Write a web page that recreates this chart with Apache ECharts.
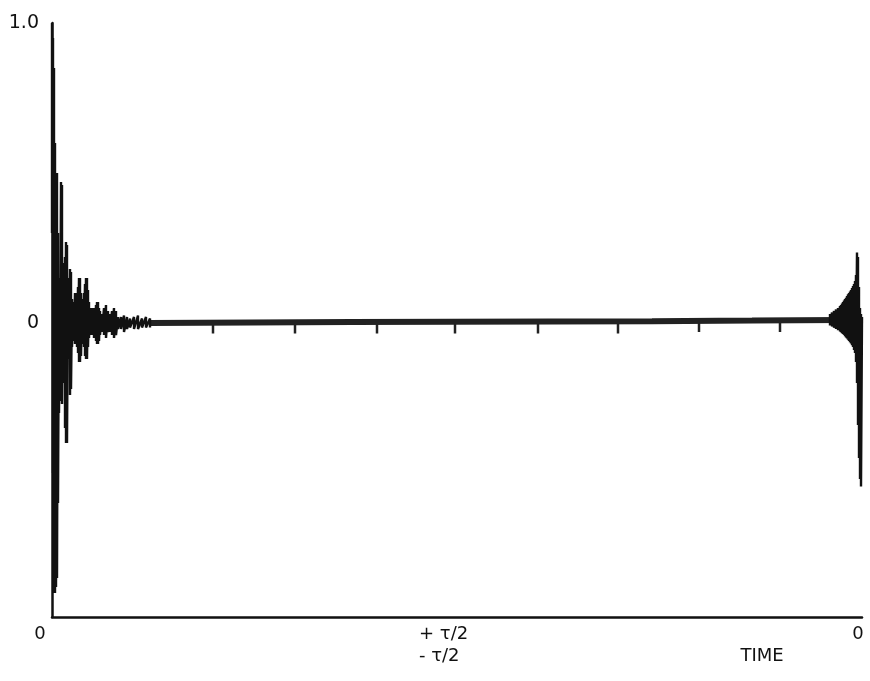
<!DOCTYPE html>
<html>
<head>
<meta charset="utf-8">
<script src="https://cdn.jsdelivr.net/npm/echarts@6/dist/echarts.min.js"></script>
<style>
  html, body { margin: 0; padding: 0; background: #fff; }
  #chart { width: 870px; height: 681px; }
</style>
</head>
<body>
<div id="chart"></div>
<script>
// time positions along the sweep, envelope of the ringing
const leftT = [0,1,2,3,4,5,6,7,8,9,10,11,12,13,14,15,16,17,18,19,20,21,22,23,24,25,26,27,28,29,30,31,32,33,34,35,36,37,38,39,40,41,42,43,44,45,46,47,48,
  50,52,54,56,58,60,62,64,66, 69,72,75,78,82,86,90,94,98]
const leftHi = [1.0,0.95,0.85,0.6,0.5,0.5,0.3,0.15,0.1,0.47,0.46,0.2,0.15,0.22,0.27,0.26,0.15,0.12,0.18,0.17,0.08,0.06,0.07,0.1,0.1,0.07,0.12,0.15,0.15,0.1,0.07,0.08,0.1,0.13,0.15,0.15,0.11,0.07,0.05,0.04,0.05,0.05,0.04,0.05,0.06,0.07,0.07,0.05,0.04,
  0.03,0.05,0.06,0.04,0.03,0.04,0.05,0.04,0.02, 0.02,0.025,0.02,0.015,0.02,0.025,0.015,0.02,0.015]
const leftLo = [0.3,-0.5,-0.9,-0.9,-0.88,-0.85,-0.6,-0.3,-0.2,-0.26,-0.27,-0.15,-0.2,-0.35,-0.4,-0.4,-0.12,-0.1,-0.24,-0.22,-0.08,-0.06,-0.05,-0.07,-0.07,-0.08,-0.1,-0.13,-0.13,-0.11,-0.07,-0.06,-0.08,-0.11,-0.12,-0.12,-0.08,-0.05,-0.04,-0.04,-0.04,-0.04,-0.05,-0.05,-0.06,-0.07,-0.07,-0.06,-0.04,
  -0.03,-0.04,-0.05,-0.03,-0.03,-0.04,-0.05,-0.04,-0.02, -0.02,-0.03,-0.02,-0.015,-0.02,-0.02,-0.015,-0.015,-0.015]

// quiet part of the trace
const midT = [98, 200, 300, 400, 500, 600, 700, 790]
const midY = [0, 0.002, 0.003, 0.004, 0.005, 0.006, 0.008, 0.01]

// small timing marks hanging under the trace
const markT = [161, 243, 325, 403, 486, 566, 647, 728]
const markY = [-0.035, -0.035, -0.035, -0.035, -0.035, -0.035, -0.03, -0.03]

// build-up at the right end
const rightT = [778,780,782,784,786,788,789,790,791,792,793,794,795,796,797,798,799,800,801,802,803,804,805,806,807,808,809,810]
const rightHi = [0.03,0.035,0.04,0.045,0.05,0.056,0.06,0.065,0.07,0.075,0.08,0.084,0.09,0.096,0.1,0.105,0.11,0.117,0.123,0.13,0.14,0.16,0.235,0.22,0.12,0.05,0.03,0.02]
const rightLo = [-0.008,-0.012,-0.016,-0.02,-0.024,-0.028,-0.031,-0.034,-0.037,-0.04,-0.044,-0.048,-0.052,-0.056,-0.06,-0.064,-0.068,-0.074,-0.08,-0.09,-0.1,-0.13,-0.2,-0.34,-0.45,-0.52,-0.545,0.0]

const yTicks = [0, 1]
const yTickLabels = ['0', '1.0']
const xTicks = [0, 394, 710, 806]
const xTickLabels = ['{l|0}', '{m|+ τ/2}\n{m|- τ/2}', '\nTIME', '0']

function zigzag(t, hi, lo) {
  const pts = []
  t.forEach((x, i) => {
    pts.push([x, hi[i]])
    pts.push([x, lo[i]])
  })
  return pts
}

const chart = echarts.init(document.getElementById('chart'))
const font = 'DejaVu Sans'

chart.setOption({
  animation: false,
  backgroundColor: '#fff',
  grid: { left: 52, right: 8, top: 23, bottom: 64 },
  xAxis: {
    type: 'value',
    min: 0,
    max: 810,
    splitLine: { show: false },
    axisTick: { show: false },
    axisLine: { onZero: false, lineStyle: { color: '#111', width: 2.5 } },
    axisLabel: {
      customValues: xTicks,
      formatter: (v, i) => xTickLabels[xTicks.indexOf(v)],
      margin: 6,
      color: '#111',
      fontFamily: font,
      fontSize: 18,
      lineHeight: 22,
      rich: {
        l: { fontFamily: font, fontSize: 18, color: '#111', padding: [0, 24, 0, 0] },
        m: { fontFamily: font, fontSize: 18, color: '#111', width: 54, align: 'left', lineHeight: 22 }
      }
    }
  },
  yAxis: {
    type: 'value',
    min: -0.98,
    max: 1.0,
    splitLine: { show: false },
    axisTick: { show: false },
    axisLine: { show: true, lineStyle: { color: '#111', width: 2.5 } },
    axisLabel: {
      customValues: yTicks,
      formatter: v => yTickLabels[yTicks.indexOf(v)],
      margin: 13,
      color: '#111',
      fontFamily: font,
      fontSize: 19
    }
  },
  series: [
    {
      type: 'line',
      data: midT.map((t, i) => [t, midY[i]]),
      symbol: 'none',
      lineStyle: { color: '#222', width: 6 }
    },
    {
      type: 'custom',
      data: markT.map((t, i) => [t, markY[i]]),
      renderItem: (params, api) => {
        const a = api.coord([api.value(0), 0])
        const b = api.coord([api.value(0), api.value(1)])
        return {
          type: 'line',
          shape: { x1: a[0], y1: a[1], x2: b[0], y2: b[1] },
          style: { stroke: '#222', lineWidth: 2.5 }
        }
      }
    },
    {
      type: 'line',
      data: zigzag(leftT, leftHi, leftLo),
      symbol: 'none',
      lineStyle: { color: '#111', width: 2.4 }
    },
    {
      type: 'line',
      data: zigzag(rightT, rightHi, rightLo),
      symbol: 'none',
      lineStyle: { color: '#111', width: 2.4 }
    }
  ]
})
</script>
</body>
</html>
